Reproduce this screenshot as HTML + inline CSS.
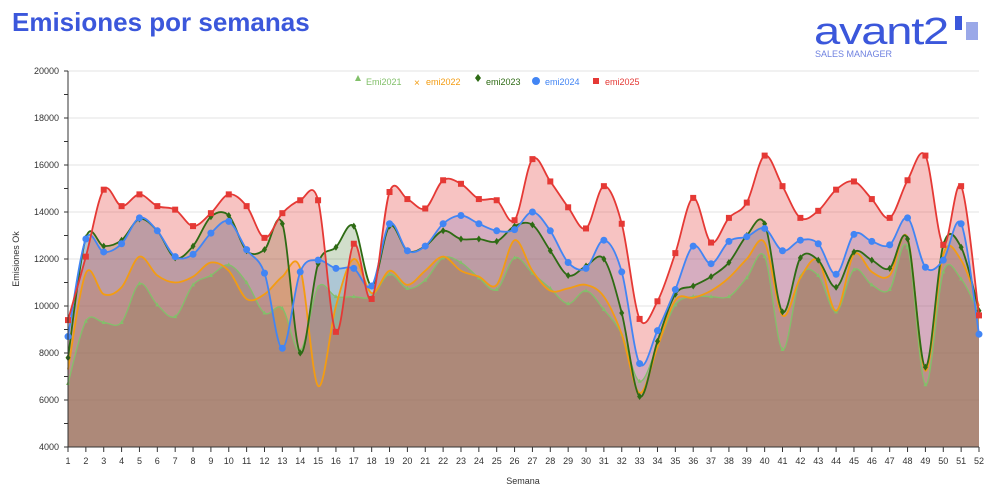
<!DOCTYPE html>
<html><head><meta charset="utf-8"><style>
body{margin:0;background:#fff;width:1000px;height:492px;overflow:hidden;font-family:"Liberation Sans",sans-serif}
</style></head><body>
<svg id="s" width="1000" height="492" xmlns="http://www.w3.org/2000/svg" font-family="Liberation Sans, sans-serif">
<text x="12" y="31" font-size="26" font-weight="bold" fill="#3b57db">Emisiones por semanas</text>
<text x="814" y="44" font-size="38" fill="#3b57db" letter-spacing="-1" textLength="134" lengthAdjust="spacingAndGlyphs">avant2</text>
<rect x="955" y="16" width="7" height="14" fill="#3b57db"/>
<rect x="966" y="22" width="12" height="18" fill="#9aa8e8"/>
<text x="815" y="57" font-size="9" fill="#6f82e0">SALES MANAGER</text>
<g id="grid"></g>
<g id="areas"></g>
<g id="lines"></g>
<g id="axes"></g>
<g font-size="9">
<path d="M355,81 l3,-6 l3,6z" fill="#82c06a"/><text x="366" y="85" fill="#82c06a">Emi2021</text>
<text x="414" y="86" fill="#f39c12" font-size="10">×</text><text x="426" y="85" fill="#f39c12">emi2022</text>
<path d="M478,74 l3,4 l-3,4 l-3,-4z" fill="#2e6b14"/><text x="486" y="85" fill="#2e6b14">emi2023</text>
<circle cx="536" cy="81" r="4" fill="#4285f4"/><text x="545" y="85" fill="#4285f4">emi2024</text>
<rect x="593" y="78" width="6" height="6" fill="#e53935"/><text x="605" y="85" fill="#e53935">emi2025</text>
</g>
<text x="523" y="484" font-size="9" text-anchor="middle" fill="#333">Semana</text>
<text transform="translate(19,259) rotate(-90)" font-size="9" text-anchor="middle" fill="#333">Emisiones Ok</text>
</svg>
<script>
const D={
r:[9400,12100,14950,14250,14750,14250,14100,13400,13950,14750,14250,12900,13950,14500,14500,8900,12650,10300,14850,14550,14150,15350,15200,14550,14500,13650,16250,15300,14200,13300,15100,13500,9450,10200,12250,14600,12700,13750,14400,16400,15100,13750,14050,14950,15300,14550,13750,15350,16400,12600,15100,9600],
b:[8700,12850,12300,12650,13750,13200,12100,12200,13100,13600,12400,11400,8200,11450,11950,11600,11600,10850,13500,12350,12550,13500,13850,13500,13200,13250,14000,13200,11850,11600,12800,11450,7550,8950,10700,12550,11800,12750,12950,13300,12350,12800,12650,11350,13050,12750,12600,13750,11650,11950,13500,8800],
g:[7800,12900,12550,12800,13700,13200,12050,12550,13800,13850,12350,12400,13500,8000,11800,12500,13400,10850,13400,12350,12550,13200,12850,12850,12750,13400,13450,12350,11300,11700,12000,9700,6150,8500,10500,10850,11250,11850,13000,13500,9750,12050,11950,10800,12300,11950,11600,12850,7400,12600,12500,9800],
o:[7300,11400,10500,10800,12100,11300,11000,11250,11850,11500,10300,10500,11250,11600,6600,10000,12000,10550,11500,10900,11500,12100,11500,11250,10900,12800,11500,10650,10750,10900,10400,8800,6300,8250,10250,10350,10650,11200,12000,12700,9600,11200,11950,9800,12200,11450,11300,12900,7250,12200,11950,10000],
l:[6700,9350,9300,9300,10950,10050,9550,10900,11300,11750,11000,9700,9900,8100,10800,10400,10400,10400,11350,10750,11100,12050,11850,11200,10700,12050,11400,10750,10100,10650,9850,8800,6800,8300,10050,10400,10400,10400,11200,12100,8150,11250,11300,9750,11550,10900,10700,12500,6650,11450,11150,9700]};
const X=i=>68+i*(911/51), Y=v=>447-(v-4000)*0.0235;
function path(a){let p=a.map((v,i)=>[X(i),Y(v)]);let d=`M${p[0][0]},${p[0][1]}`;
for(let i=0;i<p.length-1;i++){const p0=p[Math.max(0,i-1)],p1=p[i],p2=p[i+1],p3=p[Math.min(p.length-1,i+2)];
d+=`C${p1[0]+(p2[0]-p0[0])/6},${p1[1]+(p2[1]-p0[1])/6} ${p2[0]-(p3[0]-p1[0])/6},${p2[1]-(p3[1]-p1[1])/6} ${p2[0]},${p2[1]}`;}return d;}
const C={l:'#82c06a',o:'#f39c12',g:'#2e6b14',b:'#4285f4',r:'#e53935'};
const OP={l:0.4,o:0.25,g:0.22,b:0.25,r:0.3};
let A='',L='',G='',AX='';
for(let v=6000;v<=20000;v+=2000)G+=`<line x1="68" x2="979" y1="${Y(v)}" y2="${Y(v)}" stroke="#e3e3e3"/>`;
for(const k of ['l','o','g','b','r']){const d=path(D[k]);
A+=`<path d="${d}L979,447L68,447Z" fill="${C[k]}" fill-opacity="${OP[k]}"/>`;
L+=`<path d="${d}" fill="none" stroke="${C[k]}" stroke-width="${k=='l'?1.3:1.8}"/>`;
D[k].forEach((v,i)=>{const x=X(i),y=Y(v);
if(k=='r')L+=`<rect x="${x-3}" y="${y-3}" width="6" height="6" fill="${C[k]}"/>`;
else if(k=='b')L+=`<circle cx="${x}" cy="${y}" r="3.5" fill="${C[k]}"/>`;
else if(k=='g')L+=`<path d="M${x},${y-3.5}l2.5,3.5l-2.5,3.5l-2.5,-3.5z" fill="${C[k]}"/>`;
else if(k=='l')L+=`<path d="M${x-2},${y+1.5}l2,-4l2,4z" fill="${C[k]}"/>`;});}
AX+=`<line x1="68" x2="68" y1="71" y2="447" stroke="#333"/><line x1="68" x2="979" y1="447" y2="447" stroke="#333"/>`;
for(let v=4000;v<=20000;v+=1000){AX+=`<line x1="64" x2="68" y1="${Y(v)}" y2="${Y(v)}" stroke="#333"/>`;
if(v%2000==0)AX+=`<text x="59" y="${Y(v)+3}" font-size="9" text-anchor="end" fill="#333">${v}</text>`;}
for(let i=0;i<52;i++){AX+=`<line x1="${X(i)}" x2="${X(i)}" y1="447" y2="452" stroke="#333"/><text x="${X(i)}" y="464" font-size="9" text-anchor="middle" fill="#333">${i+1}</text>`;}
document.getElementById('grid').innerHTML=G;document.getElementById('areas').innerHTML=A;
document.getElementById('lines').innerHTML=L;document.getElementById('axes').innerHTML=AX;
</script>
</body></html>
